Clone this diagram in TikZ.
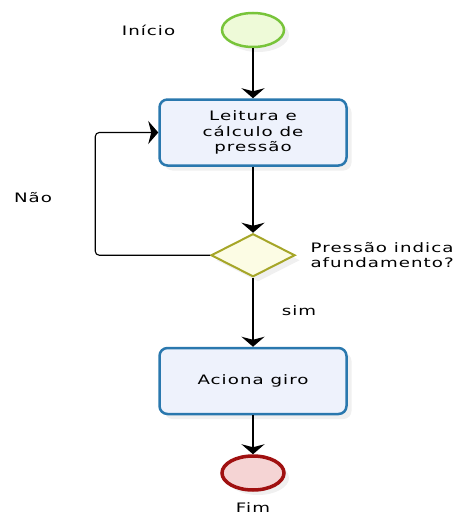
\documentclass[tikz,border=0pt]{standalone}
\usepackage{fontspec}
\setmainfont{DejaVu Sans}[FakeStretch=1.4,LetterSpace=8]
\usetikzlibrary{positioning}
\usetikzlibrary{arrows.meta,shapes.geometric,shadows}

\definecolor{inicioborda}{HTML}{78C43A}
\definecolor{iniciofundo}{HTML}{EEFAD8}
\definecolor{tarefaborda}{HTML}{2A78AE}
\definecolor{tarefafundo}{HTML}{EEF2FC}
\definecolor{decisaoborda}{HTML}{A6A628}
\definecolor{decisaofundo}{HTML}{FCFCE4}
\definecolor{fimborda}{HTML}{A01010}
\definecolor{fimfundo}{HTML}{F5D4D4}

\tikzset{
  sombra/.style={drop shadow={opacity=0.12,shadow xshift=5pt,shadow yshift=-5pt}},
  evento/.style={ellipse,minimum width=62pt,minimum height=34pt,inner sep=0pt,sombra},
  tarefa/.style={rectangle,rounded corners=8pt,draw=tarefaborda,fill=tarefafundo,
    line width=2.5pt,minimum width=187pt,minimum height=66pt,align=center,sombra},
  decisao/.style={diamond,draw=decisaoborda,fill=decisaofundo,line width=2pt,
    minimum width=84pt,minimum height=43pt,inner sep=0pt,sombra},
  rotulo/.style={align=center},
  fluxo/.style={->,line width=1.6pt},
}

\begin{document}
\begin{tikzpicture}[x=1pt,y=-1pt,>={Stealth[width=23pt,length=10pt,inset=3pt]},
    font=\fontsize{13}{15.5}\selectfont]
    \useasboundingbox (0,0) rectangle (457,514);

    \node (inicio) [evento,draw=inicioborda,fill=iniciofundo,line width=2.5pt] at (253,30) {};
    \node (leitura) [tarefa,below=50pt of inicio] {Leitura e\\cálculo de\\pressão};
    \node (decisao) [decisao,below=66pt of leitura] {};
    \node (aciona) [tarefa,below=69pt of decisao] {Aciona giro};
    \node (fim) [evento,draw=fimborda,fill=fimfundo,line width=3.5pt,below=39pt of aciona] {};

    \node (tinicio) [rotulo,left=42pt of inicio] {Início};
    \node (tpergunta) [rotulo,right=11pt of decisao] {Pressão indica\\afundamento?};
    \node (tsim) at (299,311) {sim};
    \node (tnao) at (33,198) {Não};
    \node (tfim) [below=7pt of fim] {Fim};

    \draw [fluxo] (inicio) -- (leitura);
    \draw [fluxo] (leitura) -- (decisao);
    \draw [fluxo] (decisao) -- (aciona);
    \draw [fluxo] (aciona) -- (fim);
    \draw [->,line width=1.1pt,rounded corners=4pt]
      (decisao.west) -| ([xshift=-63pt]leitura.west) -- (leitura.west);
\end{tikzpicture}
\end{document}
